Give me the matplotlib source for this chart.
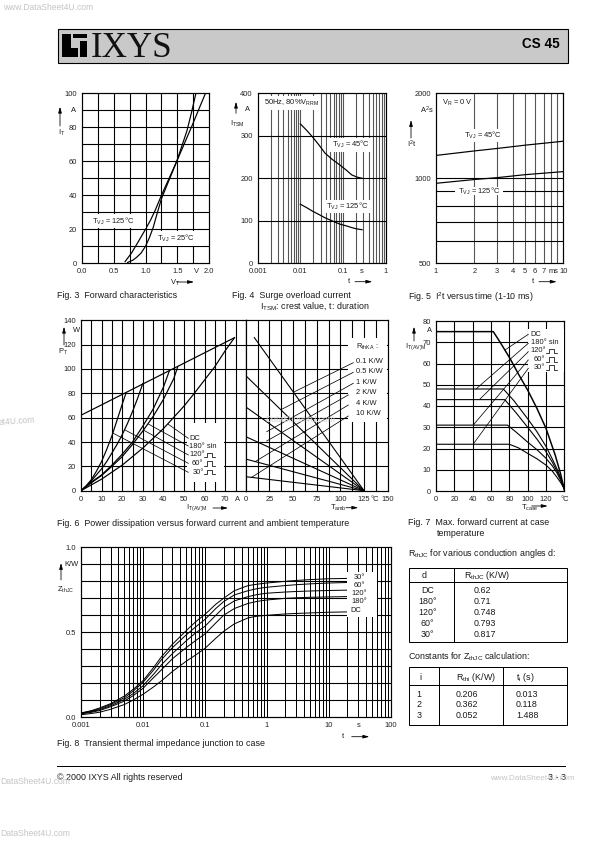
import matplotlib
matplotlib.use('Agg')
import matplotlib.pyplot as plt
from matplotlib.patches import Rectangle, Polygon

plt.rcParams['font.family'] = ['Liberation Sans', 'DejaVu Sans']
plt.rcParams['mathtext.fontset'] = 'custom'
plt.rcParams['mathtext.rm'] = 'Liberation Sans'
plt.rcParams['mathtext.default'] = 'regular'

# Fig. 3 forward characteristics
v_125 = [0.68, 0.72, 0.78, 0.86, 0.93, 1.0, 1.08, 1.15, 1.25, 1.37, 1.49, 1.61, 1.73, 1.84, 1.94]
i_125 = [1, 3, 6, 11, 15.5, 20, 25.5, 31, 40, 50, 60, 70.5, 81, 91, 100]
v_25 = [0.72, 0.80, 0.86, 0.93, 1.0, 1.06, 1.12, 1.18, 1.25, 1.37, 1.49, 1.57, 1.65, 1.72, 1.79]
i_25 = [0.5, 1.8, 3.5, 6, 10, 15, 21, 29, 38, 49, 60, 69, 78, 88.5, 100]

# Fig. 4 surge current
t_surge = [0.01, 0.014, 0.019, 0.027, 0.038, 0.055, 0.085, 0.12, 0.16, 0.21, 0.28]
i_surge_45 = [328, 313, 298, 279, 259, 245, 231, 219, 208, 203, 200]
i_surge_125 = [139, 131, 123, 115, 107, 100, 92, 88, 84, 81, 79]

# Fig. 5 i2t
t_i2t = [1, 2, 3, 5, 10]
i2t_45 = [1205, 1250, 1275, 1310, 1353]
i2t_125 = [960, 990, 1005, 1030, 1056]

# Fig. 6 power dissipation
env_i = [0, 74.5]
env_p = [62, 125.7]
dc_i = [0, 10, 20, 30, 40, 50, 55, 60, 65, 70, 74.5]
dc_p = [0, 9.5, 21, 35, 51, 69.5, 80, 91, 102, 115, 125.7]
s180_i = [0, 5, 10, 15, 20, 25, 30, 35, 40, 45, 47]
s180_p = [0, 6.5, 12.5, 20, 28, 38, 49, 61, 75, 92, 102]
s120_i = [0, 5, 10, 15, 20, 25, 30, 35, 40, 43]
s120_p = [0, 7, 13, 21, 30, 40, 53, 67, 85, 99]
s60_i = [0, 2.5, 5, 7.5, 10, 12.5, 15, 17.5, 20, 22.5, 25, 27.5, 30]
s60_p = [0, 3.8, 8, 13, 18, 24, 31, 38, 46, 55, 65, 76, 88]
s30_i = [0, 2.5, 5, 7.5, 10, 12.5, 15, 17.5, 20, 21.8]
s30_p = [0, 4, 9, 16, 24, 34, 45, 58, 71, 80]
rth_start_t = [9, 0, 0, 0, 0, 0]
rth_start_p = [125.8, 94.5, 68.8, 44.4, 26, 11.5]
rth_names = ['0.1 K/W', '0.5 K/W', '1 K/W', '2 K/W', '4 K/W', '10 K/W']

# Fig. 7 forward current vs case temperature
dc_tc = [0, 62.5, 70, 80.7, 90, 100, 110, 120, 130, 136, 140]
dc_ic = [75, 75, 70, 62.4, 55, 47.5, 39, 29.5, 17, 8, 0.5]
c180_tc = [0, 73.5, 85, 100, 110, 120, 127, 133.5, 137, 140]
c180_ic = [48, 48, 42.5, 34, 28, 21, 15, 9, 5, 1]
c120_tc = [0, 75, 87, 100, 110, 120, 127, 133, 137, 140]
c120_ic = [43, 43, 37, 30, 24.5, 18.5, 13.5, 8.5, 5, 1]
c60_tc = [0, 78, 88, 100, 110, 120, 127, 132, 136, 140]
c60_ic = [31, 31, 27.5, 23, 19.5, 15.4, 11.8, 8.5, 5, 1]
c30_tc = [0, 80, 90, 100, 110, 120, 127, 131.6, 136, 140]
c30_ic = [22, 22, 20.3, 17.7, 15.2, 12.2, 9.3, 6.7, 4, 1]

# Fig. 8 transient thermal impedance
t_z = [0.001, 0.0015, 0.002, 0.003, 0.005, 0.007, 0.01, 0.015, 0.02, 0.03, 0.05, 0.07, 0.1, 0.15, 0.2, 0.3,
       0.5, 0.7, 1, 2, 3, 5, 10, 20]
z_30 = [0.025, 0.04, 0.055, 0.08, 0.125, 0.165, 0.215, 0.295, 0.357, 0.43, 0.51, 0.56, 0.605, 0.665, 0.70, 0.745,
        0.775, 0.783, 0.79, 0.80, 0.805, 0.81, 0.815, 0.817]
z_60 = [0.025, 0.037, 0.05, 0.075, 0.115, 0.155, 0.205, 0.28, 0.34, 0.41, 0.485, 0.53, 0.575, 0.64, 0.68, 0.72,
        0.745, 0.757, 0.765, 0.775, 0.78, 0.785, 0.79, 0.793]
z_120 = [0.022, 0.034, 0.045, 0.068, 0.105, 0.14, 0.185, 0.255, 0.31, 0.375, 0.45, 0.495, 0.535, 0.60, 0.645, 0.685,
         0.71, 0.722, 0.73, 0.737, 0.74, 0.743, 0.746, 0.748]
z_180 = [0.02, 0.03, 0.04, 0.062, 0.095, 0.128, 0.17, 0.235, 0.28, 0.345, 0.41, 0.45, 0.49, 0.555, 0.60, 0.64,
         0.67, 0.682, 0.69, 0.70, 0.703, 0.706, 0.708, 0.71]
z_dc = [0.015, 0.023, 0.03, 0.047, 0.075, 0.102, 0.135, 0.18, 0.215, 0.27, 0.33, 0.365, 0.405, 0.465, 0.505, 0.55,
        0.585, 0.595, 0.60, 0.608, 0.611, 0.614, 0.618, 0.62]

# tables
angle_names = ['DC', '180°', '120°', '60°', '30°']
angle_rth = ['0.62', '0.71', '0.748', '0.793', '0.817']
const_i = ['1', '2', '3']
const_r = ['0.206', '0.362', '0.052']
const_t = ['0.013', '0.118', '1.488']

W, H = 595, 842
fig = plt.figure(figsize=(W / 72, H / 72), dpi=72, facecolor='white')

# overlay in pixel coords, for page furniture, labels and white masks
page = fig.add_axes([0, 0, 1, 1], zorder=5)
page.set_xlim(0, W)
page.set_ylim(H, 0)
page.axis('off')
page.patch.set_alpha(0)

TICK = 7.5
CAP = 8.9


def make_axes(left, top, right, bottom):
    ax = fig.add_axes([left / W, 1 - bottom / H, (right - left) / W, (bottom - top) / H], zorder=2)
    for s in ax.spines.values():
        s.set_linewidth(1.2)
    ax.tick_params(which='both', length=0, labelsize=TICK, pad=5, colors='#222222')
    return ax


def set_grid(ax, xs, ys, xcol='black', xlw=1.1):
    # grid comes from minor ticks only, labels sit on major ones
    ax.xaxis.remove_overlapping_locs = False
    ax.yaxis.remove_overlapping_locs = False
    ax.set_xticks(xs, minor=True)
    ax.set_yticks(ys, minor=True)
    ax.grid(False, which='major')
    ax.grid(True, which='minor', axis='x', color=xcol, lw=xlw)
    ax.grid(True, which='minor', axis='y', color='black', lw=1.1)
    ax.set_axisbelow(True)
    ax.tick_params(which='minor', labelbottom=False, labelleft=False)


def mask(x0, y0, x1, y1):
    page.add_patch(Rectangle((x0, y0), x1 - x0, y1 - y0, fc='white', ec='none', zorder=1))


def txt(x, y, s, size=TICK, ha='left', **kw):
    page.text(x, y, s, fontsize=size, ha=ha, va='center', zorder=4, color=kw.pop('color', '#1a1a1a'), **kw)


def arrow(x0, y0, x1, y1):
    page.annotate('', xy=(x1, y1), xytext=(x0, y0), zorder=4,
                  arrowprops=dict(arrowstyle='-|>,head_width=0.14,head_length=0.5', lw=0.8, color='black',
                                  shrinkA=0, shrinkB=0))


def leader(x0, y0, x1, y1):
    page.plot([x0, x1], [y0, y1], color='black', lw=0.75, zorder=3)


def pulse(x, y):
    page.plot([x, x + 3, x + 3, x + 7.5, x + 7.5, x + 11], [y + 2.3, y + 2.3, y - 2.3, y - 2.3, y + 2.3, y + 2.3],
              color='black', lw=0.75, zorder=4)


# header band
page.add_patch(Rectangle((57.5, 28.5), 510, 34, fc='#c9c9c9', ec='black', lw=1.1, zorder=0))
page.add_patch(Polygon([(62.3, 34), (71, 34), (71, 48.3), (78.3, 48.3), (78.3, 57.3), (62.3, 57.3)], fc='black', ec='none'))
page.add_patch(Rectangle((73.3, 34), 14, 4.3, fc='black', ec='none'))
page.add_patch(Rectangle((80, 40.7), 7.3, 16.6, fc='black', ec='none'))
page.text(91, 57.3, 'IXYS', fontsize=35, family='Liberation Serif', ha='left', va='baseline', color='#111111')
txt(559.5, 44.5, 'CS 45', size=13.5, ha='right', weight='bold', color='black')

# Fig. 3
ax3 = make_axes(81.7, 93.3, 209.3, 263.3)
ax3.plot(v_125, i_125, color='black', lw=1.2)
ax3.plot(v_25, i_25, color='black', lw=1.2)
ax3.set_xlim(0, 2)
ax3.set_ylim(0, 100)
ax3.set_xticks([0, 0.5, 1, 1.5, 1.8, 2], ['0.0', '0.5', '1.0', '1.5', 'V', '2.0'])
ax3.set_yticks([0, 20, 40, 60, 80, 100])
set_grid(ax3, [0.25 * k for k in range(1, 8)], [10 * k for k in range(1, 10)])
mask(84, 213.8, 146, 228)
mask(153, 231, 202, 246)
txt(91.7, 221, r'T$_{VJ}$ = 125°C')
txt(157, 238.3, r'T$_{VJ}$ = 25°C')
txt(71, 110, 'A')
txt(58, 132.7, r'I$_{T}$')
arrow(60, 126, 60, 106.7)
txt(170, 282.7, r'V$_{T}$')
arrow(176.7, 282, 194, 282)
txt(57, 295, 'Fig. 3  Forward characteristics', size=CAP)

# Fig. 4
ax4 = make_axes(257.7, 93.3, 385.7, 263.3)
ax4.plot(t_surge, i_surge_45, color='black', lw=1.2)
ax4.plot(t_surge, i_surge_125, color='black', lw=1.2)
ax4.set_xscale('log')
ax4.set_xlim(0.001, 1)
ax4.set_ylim(0, 400)
ax4.set_xticks([0.001, 0.01, 0.1, 0.28, 1], ['0.001', '0.01', '0.1', 's', '1'])
ax4.set_yticks([0, 100, 200, 300, 400])
dec_ticks = [m * 10.0 ** e for e in (-3, -2, -1) for m in range(1, 10)][1:]
set_grid(ax4, dec_ticks, [100, 200, 300], xcol='#555555', xlw=1.1)
mask(261.7, 95.5, 320, 110)
mask(327, 138, 372, 152)
mask(322, 200, 372, 213)
txt(264, 103, r'50Hz, 80%V$_{RRM}$')
txt(332, 144.5, r'T$_{VJ}$ = 45°C')
txt(326, 206.5, r'T$_{VJ}$ = 125°C')
txt(245, 109.3, 'A')
txt(230, 124, r'I$_{TSM}$')
arrow(236, 113.3, 236, 101.7)
txt(348, 281.7, 't')
arrow(355, 281.7, 372.3, 281.7)
txt(232.3, 295, 'Fig. 4  Surge overload current', size=CAP)
txt(260, 305.5, r'I$_{TSM}$: crest value, t: duration', size=CAP)

# Fig. 5
ax5 = make_axes(436, 93.3, 563.3, 263.3)
ax5.plot(t_i2t, i2t_45, color='black', lw=1.2)
ax5.plot(t_i2t, i2t_125, color='black', lw=1.2)
ax5.set_xscale('log')
ax5.set_yscale('log')
ax5.set_xlim(1, 10)
ax5.set_ylim(500, 2000)
ax5.set_xticks([1, 2, 3, 4, 5, 6, 7, 8.3, 10], ['1', '2', '3', '4', '5', '6', '7', 'ms', '10'])
ax5.set_yticks([500, 1000, 2000], ['500', '1000', '2000'])
set_grid(ax5, [2, 3, 4, 5, 6, 7, 8, 9], [600, 700, 800, 900, 1000], xcol='#555555', xlw=1.1)
mask(461, 129, 503, 142)
mask(455, 186.5, 503, 195)
txt(442, 102.7, r'V$_{R}$ = 0 V')
txt(464, 135.5, r'T$_{VJ}$ = 45°C')
txt(458, 191, r'T$_{VJ}$ = 125°C')
txt(420, 110, r'A$^{2}$s')
txt(407, 144, r'I$^{2}$t')
arrow(411, 138, 411, 120)
txt(532, 281.7, 't')
arrow(539, 281.7, 556.7, 281.7)
txt(408.3, 296.7, r'Fig. 5  I$^{2}$t versus time (1-10 ms)', size=CAP)

# Fig. 6, two panels side by side
ax6 = make_axes(81, 320.3, 245.8, 490.7)
ax6.plot(env_i, env_p, color='black', lw=1.2)
for xs, ys in [(dc_i, dc_p), (s180_i, s180_p), (s120_i, s120_p), (s60_i, s60_p), (s30_i, s30_p)]:
    ax6.plot(xs, ys, color='black', lw=1.2)
ax6.set_xlim(0, 80)
ax6.set_ylim(0, 140)
ax6.set_xticks([0, 10, 20, 30, 40, 50, 60, 70, 75.8], ['0', '10', '20', '30', '40', '50', '60', '70', 'A'])
ax6.set_yticks([0, 20, 40, 60, 80, 100, 120, 140])
set_grid(ax6, [5 * k for k in range(1, 16)], [20 * k for k in range(1, 7)])

ax6b = make_axes(245.8, 320.3, 387.7, 490.7)
for t0, p0 in zip(rth_start_t, rth_start_p):
    ax6b.plot([t0, 125], [p0, 0], color='black', lw=1.1)
ax6b.set_xlim(0, 150)
ax6b.set_ylim(0, 140)
ax6b.set_xticks([0, 25, 50, 75, 100, 125, 136, 150], ['0', '25', '50', '75', '100', '125', '°C', '150'])
ax6b.set_yticks([])
set_grid(ax6b, [12.5 * k for k in range(1, 12)], [20 * k for k in range(1, 7)])

mask(187, 423, 224, 482)
leg6 = [('DC', 189, 438.3), ('180° sin', 189, 446.7), ('120°', 189, 455), ('60°', 191.7, 463.3), ('30°', 192.7, 472)]
for name, x, y in leg6:
    txt(x, y, name)
for y in (455, 463.3, 472):
    pulse(204, y)
leader(168.3, 424.3, 188.3, 438.3)
leader(148.3, 424, 188.3, 446)
leader(143.3, 430, 188.3, 455)
leader(125, 430, 188.3, 463.3)
leader(113.3, 433.3, 188.3, 472.3)

mask(348.3, 337.7, 387, 421.7)
txt(356, 346.7, r'R$_{thKA}$ :')
for name, y in zip(rth_names, [361.7, 371.7, 383, 392.7, 403.3, 413.3]):
    txt(356, y, name)
leader(353.3, 362.7, 293.3, 392.3)
leader(353.3, 372.3, 281.7, 409.3)
leader(353.3, 383.3, 266.7, 431.7)
leader(348.3, 395, 266.7, 441)
leader(348.3, 405, 255, 461.7)
leader(348.3, 416, 251, 477.7)
txt(73, 330.7, 'W')
txt(58, 352.3, r'P$_{T}$')
arrow(64, 345, 64, 326.7)
txt(186, 508, r'I$_{T(AV)M}$')
arrow(213, 508, 228, 508)
txt(330, 507.7, r'T$_{amb}$')
arrow(346, 507.7, 358.3, 507.7)
txt(57, 523.3, 'Fig. 6  Power dissipation versus forward current and ambient temperature', size=CAP)

# Fig. 7
ax7 = make_axes(436, 321, 564.3, 491)
ax7.plot(dc_tc, dc_ic, color='black', lw=1.5)
for xs, ys in [(c180_tc, c180_ic), (c120_tc, c120_ic), (c60_tc, c60_ic), (c30_tc, c30_ic)]:
    ax7.plot(xs, ys, color='black', lw=1.1)
ax7.set_xlim(0, 140)
ax7.set_ylim(0, 80)
ax7.set_xticks([0, 20, 40, 60, 80, 100, 120, 140], ['0', '20', '40', '60', '80', '100', '120', '°C'])
ax7.set_yticks([0, 10, 20, 30, 40, 50, 60, 70, 80])
set_grid(ax7, [20 * k for k in range(1, 7)], [10 * k for k in range(1, 8)])
mask(528.3, 329, 563.5, 372)
leg7 = [('DC', 530.7, 334), ('180° sin', 530.7, 342.7), ('120°', 530.7, 351), ('60°', 534, 359.3), ('30°', 534, 367.7)]
for name, x, y in leg7:
    txt(x, y, name)
for y in (351, 359.3, 367.7):
    pulse(546, y)
leader(528.3, 334.3, 505, 350)
leader(528.3, 343.3, 476, 389)
leader(528.3, 351.7, 480, 399)
leader(528.3, 360, 473.3, 425)
leader(528.3, 368.3, 473.3, 444)
txt(427, 330, 'A')
txt(405, 346.7, r'I$_{T(AV)M}$')
arrow(414, 341, 414, 326.7)
txt(521, 508, r'T$_{case}$')
arrow(531.7, 506, 547.7, 506)
txt(408.3, 522.7, 'Fig. 7  Max. forward current at case', size=CAP)
txt(436.7, 533.3, 'temperature', size=CAP)

# Fig. 8
ax8 = make_axes(81, 547.3, 390.7, 717.3)
for ys in (z_30, z_60, z_120, z_180, z_dc):
    ax8.plot(t_z, ys, color='black', lw=1.0)
ax8.set_xscale('log')
ax8.set_xlim(0.001, 100)
ax8.set_ylim(0, 1)
ax8.set_xticks([0.001, 0.01, 0.1, 1, 10, 30, 100], ['0.001', '0.01', '0.1', '1', '10', 's', '100'])
ax8.set_yticks([0, 0.5, 1], ['0.0', '0.5', '1.0'])
dec8 = [m * 10.0 ** e for e in (-3, -2, -1, 0, 1) for m in range(1, 10)][1:]
set_grid(ax8, dec8, [0.1 * k for k in range(1, 10)], xlw=1.0)
mask(347.3, 571.7, 376.7, 616.7)
for name, x, y in [('30°', 354, 577.3), ('60°', 354, 585.7), ('120°', 351, 593.3), ('180°', 351, 601.7), ('DC', 350.5, 610.7)]:
    txt(x, y, name)
txt(64, 564, 'K/W')
txt(57, 590, r'Z$_{thJC}$')
arrow(61, 580, 61, 563)
txt(342, 736.7, 't')
arrow(351.7, 736.7, 369.3, 736.7)
txt(57, 743.3, 'Fig. 8  Transient thermal impedance junction to case', size=CAP)

# tables
txt(408.3, 553.3, r'R$_{thJC}$ for various conduction angles d:', size=CAP)
page.add_patch(Rectangle((408.5, 567.7), 158, 74.6, fc='none', ec='black', lw=1.0, zorder=3))
page.plot([408.5, 566.5], [582.3, 582.3], color='black', lw=1.0, zorder=3)
page.plot([454.3, 454.3], [567.7, 642.3], color='black', lw=1.0, zorder=3)
txt(424.3, 575.5, 'd', size=CAP, ha='center')
txt(464, 575.5, r'R$_{thJC}$ (K/W)', size=CAP)
for name, val, y in zip(angle_names, angle_rth, [590.7, 601.7, 612.7, 623.3, 634.3]):
    txt(427.7, y, name, size=CAP, ha='center')
    txt(473.3, y, val, size=CAP)

txt(408.3, 656.7, r'Constants for Z$_{thJC}$ calculation:', size=CAP)
page.add_patch(Rectangle((408.5, 667.3), 158, 57.7, fc='none', ec='black', lw=1.0, zorder=3))
page.plot([408.5, 566.5], [685.3, 685.3], color='black', lw=1.0, zorder=3)
page.plot([439.3, 439.3], [667.3, 725], color='black', lw=1.0, zorder=3)
page.plot([503.3, 503.3], [667.3, 725], color='black', lw=1.0, zorder=3)
txt(420.7, 677.5, 'i', size=CAP, ha='center')
txt(456, 677.5, r'R$_{thi}$ (K/W)', size=CAP)
txt(516, 677.5, r't$_{i}$ (s)', size=CAP)
for i, r, t, y in zip(const_i, const_r, const_t, [694.3, 704.3, 715.7]):
    txt(419.3, y, i, size=CAP, ha='center')
    txt(456, y, r, size=CAP)
    txt(516, y, t, size=CAP)

# footer
page.plot([57, 565], [766, 766], color='black', lw=1.0)
txt(57, 777, '© 2000 IXYS All rights reserved', size=CAP)
txt(566, 777, '3 - 3', size=CAP, ha='right')

# scan watermarks
wm = '#c4c4c4'
txt(3, 8, 'www.DataSheet4U.com', size=8.5, color=wm)
txt(0, 781, 'DataSheet4U.com', size=8.5, color=wm)
txt(490, 779, 'www.DataSheet4U.com', size=8, color=wm)
txt(0, 833, 'DataSheet4U.com', size=8.5, color=wm)
txt(-2, 421, 'et4U.com', size=8.5, color=wm, rotation=4)
txt(300, 420, 'DataSheet4U.com', size=8.5, ha='center', color='#d6d6d6')

fig.savefig('out.png', dpi=72)
